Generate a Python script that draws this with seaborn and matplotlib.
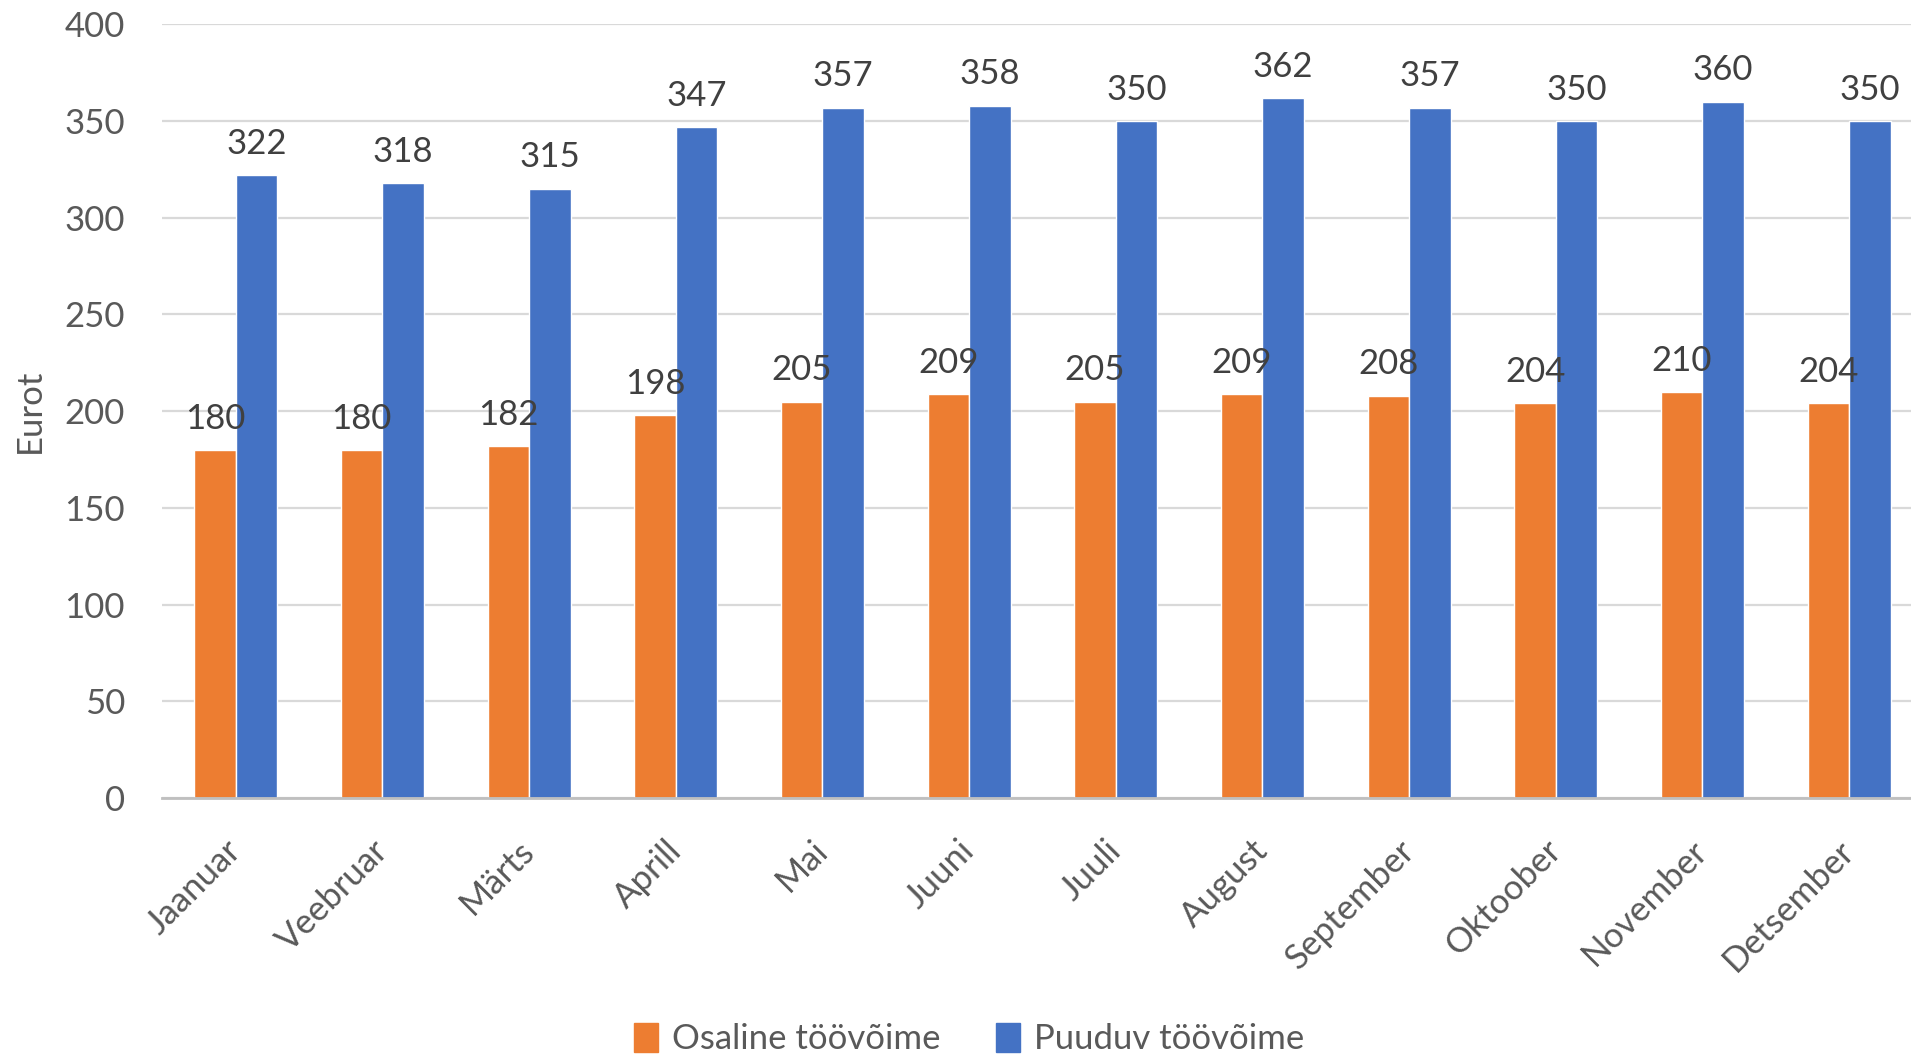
import numpy as np
import pandas as pd
import matplotlib
matplotlib.use('Agg')
import matplotlib.pyplot as plt
import matplotlib.transforms as mtrans
import seaborn as sns

# andmed
kuud = ['Jaanuar', 'Veebruar', 'Märts', 'Aprill', 'Mai', 'Juuni',
        'Juuli', 'August', 'September', 'Oktoober', 'November', 'Detsember']
osaline = [180, 180, 182, 198, 205, 209, 205, 209, 208, 204, 210, 204]
puuduv = [322, 318, 315, 347, 357, 358, 350, 362, 357, 350, 360, 350]
seeriad = ['Osaline töövõime', 'Puuduv töövõime']
varvid = ['#ED7D31', '#4472C4']

df = pd.DataFrame({
    'kuu': kuud * 2,
    'eurot': osaline + puuduv,
    'seeria': [seeriad[0]] * len(kuud) + [seeriad[1]] * len(kuud),
})

sns.set_style('white')
plt.rcParams['font.family'] = ['Lato', 'DejaVu Sans']

fs = 25
fig = plt.figure(figsize=(19.11, 10.58), dpi=100)
ax = fig.add_axes([0.085, 0.2457, 0.921, 0.7313])

sns.barplot(data=df, x='kuu', y='eurot', hue='seeria', palette=varvid,
            width=0.565, gap=0, saturation=1, ax=ax, legend=False)

for cont in ax.containers:
    ax.bar_label(cont, fmt='%d', padding=11, fontsize=fs, color='#404040')

ax.set_ylim(0, 400)
ax.set_yticks(np.arange(0, 401, 50))
ax.set_xlim(-0.5, 11.5)
ax.yaxis.grid(True, color='#d9d9d9', linewidth=1.6)
ax.set_axisbelow(True)
for s in ['top', 'right', 'left']:
    ax.spines[s].set_visible(False)
ax.spines['bottom'].set_color('#bfbfbf')
ax.spines['bottom'].set_linewidth(2)

ax.tick_params(axis='y', length=0, pad=27, labelsize=fs, labelcolor='#595959')
ax.tick_params(axis='x', length=0, pad=26, labelsize=fs, labelcolor='#595959')
nihe = mtrans.ScaledTranslation(-8 / 72, 0, fig.dpi_scale_trans)
for lbl in ax.get_xticklabels():
    lbl.set_rotation(45)
    lbl.set_ha('right')
    lbl.set_rotation_mode('anchor')
    lbl.set_transform(lbl.get_transform() + nihe)
ax.set_xlabel('')
ax.set_ylabel('Eurot', fontsize=fs, color='#595959')
ax.yaxis.set_label_coords(-0.066, 0.5)

handles = [plt.Rectangle((0, 0), 1, 1, color=c) for c in varvid]
fig.legend(handles, seeriad, loc='center', bbox_to_anchor=(0.507, 0.018), ncol=2,
           frameon=False, fontsize=fs, labelcolor='#595959', handlelength=0.7,
           handleheight=0.9, handletextpad=0.4, columnspacing=1.6)

fig.savefig('out.png', dpi=100)
